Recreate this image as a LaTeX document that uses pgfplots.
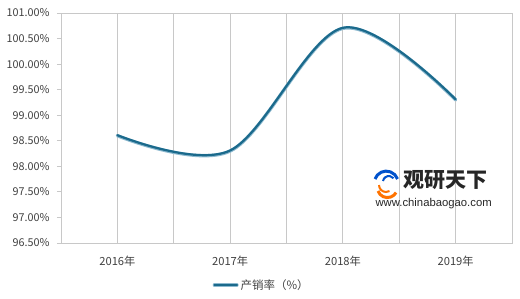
\documentclass[border=0pt]{standalone}
\usepackage{pgfplots}
\pgfplotsset{compat=1.18}
\usepackage{fontspec}
\setmainfont{Noto Sans CJK SC}
\newfontfamily\arialf{Liberation Sans}
\definecolor{lineD}{HTML}{1B6A8C}
\definecolor{lineL}{HTML}{8DB9CF}
\definecolor{gridc}{HTML}{C8C8C8}
\definecolor{txt}{HTML}{404040}
\begin{document}
\begin{tikzpicture}
\useasboundingbox (-61pt,-55pt) rectangle (459pt,243pt);
\begin{axis}[
  at={(0,0)}, anchor=south west, scale only axis,
  width=451pt, height=230pt,
  xmin=-0.5, xmax=3.5, ymin=96.5, ymax=101,
  xtick={0,1,2,3},
  xticklabels={2016年,2017年,2018年,2019年},
  minor xtick={-0.5,0.5,1.5,2.5,3.5},
  xmajorgrids, xminorgrids,
  major grid style={gridc, line width=0.9pt},
  minor grid style={gridc, line width=0.9pt},
  ytick={96.5,97,97.5,98,98.5,99,99.5,100,100.5,101},
  yticklabel={\pgfmathprintnumber[fixed,fixed zerofill,precision=2]{\tick}\%},
  /pgf/number format/assume math mode=true,
  axis line style={gridc, line width=0.9pt},
  ytick style={gridc, line width=0.9pt},
  xtick style={draw=none},
  minor tick length=0pt,
  tick align=outside,
  major tick length=4pt,
  ytick pos=left,
  ticklabel style={font=\fontsize{10.8}{12}\selectfont, text=txt},
  yticklabel style={xshift=-4pt},
  xticklabel style={yshift=-6pt, font=\fontsize{11.2}{12}\selectfont},
  legend style={at={(0.445,-0.183)}, anchor=center, draw=none, fill=none,
    font=\fontsize{11.5}{13}\selectfont, text=txt, legend columns=1},
  legend image code/.code={
    \draw[lineL, line width=3.2pt, line cap=round] (0cm,0cm) -- (0.8cm,0cm);
    \draw[lineD, line width=2pt, line cap=round] (0cm,0.3pt) -- (0.8cm,0.3pt);
  },
  clip=false,
]
\addplot[lineL, line width=3.4pt, smooth, tension=0.55, line cap=round] coordinates {
  (0,98.6) (1,98.3) (2,100.7) (3,99.3)};
\addlegendentry{产销率（\%）}
\addplot[lineD, line width=2.2pt, smooth, tension=0.55, line cap=round, forget plot] coordinates {
  (0,98.61) (1,98.31) (2,100.71) (3,99.31)};
\end{axis}
% watermark
\node[anchor=west, text=black!85, font=\fontsize{21}{24}\selectfont\bfseries] at (339pt,63pt) {观研天下};
\node[anchor=west, text=black!85, font=\arialf\fontsize{11.3}{13}\selectfont] at (311pt,39pt) {www.chinabaogao.com};
\draw[orange!90!red, line width=3pt] (317pt,52pt) arc (200:330:10pt);
\draw[orange!90!red, line width=2pt] (318pt,58pt) arc (180:300:7pt);
\draw[blue!60!cyan!80!black, line width=3pt] (314pt,64pt) arc (160:20:12pt);
\draw[blue!60!cyan!80!black, line width=2pt] (322pt,62pt) arc (170:40:6pt);
\end{tikzpicture}
\end{document}
